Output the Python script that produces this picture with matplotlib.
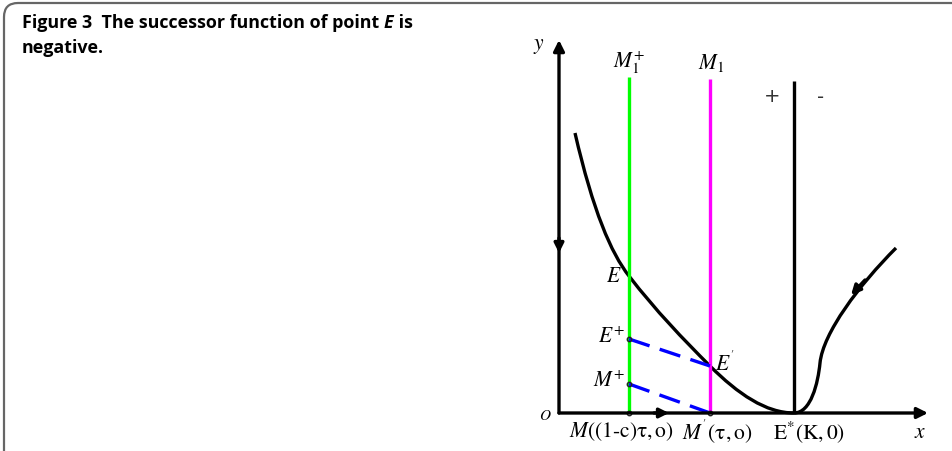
import numpy as np
import matplotlib
matplotlib.use('Agg')
import matplotlib.pyplot as plt
from matplotlib.patches import FancyBboxPatch, PathPatch
from matplotlib.path import Path

# 坐标原点在 O，单位约等于像素
tau_c = 70      # M = (1-c)tau
tau = 151       # M'
K = 235         # E*
E_y = 137
E_plus_y = 74
M_plus_y = 29
E_prime_y = 47

# 左侧轨线：三段三次贝塞尔 (起点, 控制点, 控制点, 终点 ...) 经过 E, E', E*
left_pts = [(16, 280), (34, 202), (52, 160), (tau_c, E_y),
            (97, 102), (124, 74), (tau, E_prime_y),
            (179, 19), (207, 0), (K, 0)]

# 右侧轨线：两段三次贝塞尔
right_pts = [(K, 0), (252, 0), (259, 30), (261, 50),
             (264, 80), (300, 128), (337, 165)]

# 竖线顶端
green_top = 336
magenta_top = 334
black_top = 332
y_axis_top = 373
x_axis_end = 369

title_a = 'Figure 3  The successor function of point '
title_b = 'E'
title_c = ' is'
title_line2 = 'negative.'

plt.rcParams['mathtext.fontset'] = 'stix'
plt.rcParams['font.family'] = ['Liberation Serif', 'DejaVu Serif']

fig = plt.figure(figsize=(9.52, 4.52), dpi=100)
ax = fig.add_axes([0, 0, 1, 1])
ax.set_xlim(-559, 952 - 559)
ax.set_ylim(-38, 414)
ax.axis('off')

# 外框（只露出上边和左边）
box = FancyBboxPatch((4, -60), 1100, 452 - 4 + 60, boxstyle='round,pad=0,rounding_size=14',
                     transform=None, fill=False, edgecolor='#666666', lw=1.6, clip_on=False)
fig.add_artist(box)

# 标题（E 为斜体，按实际宽度拼接）
renderer = fig.canvas.get_renderer()
tfont = dict(fontsize=12.9, fontweight='bold', family='Open Sans', va='baseline', ha='left')
x0 = 22
y1 = 452 - 28
y2 = 452 - 53
t = fig.text(x0 / 952, y1 / 452, title_a, **tfont)
w = t.get_window_extent(renderer).width
t2 = fig.text((x0 + w) / 952, y1 / 452, title_b, style='italic', **tfont)
w2 = t2.get_window_extent(renderer).width
fig.text((x0 + w + w2) / 952, y1 / 452, title_c, **tfont)
fig.text(x0 / 952, y2 / 452, title_line2, **tfont)

lw = 2.4
arr = dict(arrowstyle='-|>', lw=lw, color='k', shrinkA=0, shrinkB=0)
# 坐标轴
ax.annotate('', xy=(0, y_axis_top), xytext=(0, 0), arrowprops=dict(arr, mutation_scale=16))
ax.annotate('', xy=(x_axis_end, 0), xytext=(0, 0), arrowprops=dict(arr, mutation_scale=16))
# 轴上中间箭头
ax.annotate('', xy=(0, 160), xytext=(0, 175), arrowprops=dict(arr, mutation_scale=14))
ax.annotate('', xy=(110, 0), xytext=(95, 0), arrowprops=dict(arr, mutation_scale=14))

# 竖线
ax.plot([tau_c, tau_c], [0, green_top], color='#00ff00', lw=lw, solid_capstyle='butt')
ax.plot([tau, tau], [0, magenta_top], color='#ff00ff', lw=lw, solid_capstyle='butt')
ax.plot([K, K], [0, black_top], color='black', lw=lw, solid_capstyle='butt')

# 轨线
for pts in (left_pts, right_pts):
    codes = [Path.MOVETO] + [Path.CURVE4] * (len(pts) - 1)
    ax.add_patch(PathPatch(Path(pts, codes), fill=False, edgecolor='black', lw=lw, capstyle='butt'))
ax.annotate('', xy=(292, 118), xytext=(306, 133), arrowprops=dict(arr, mutation_scale=14))

# 虚线
ax.plot([tau_c, tau], [E_plus_y, E_prime_y], color='#0000ff', lw=lw, dashes=(6.5, 3.2))
ax.plot([tau_c, tau], [M_plus_y, 0], color='#0000ff', lw=lw, dashes=(6.5, 3.2))

# 小圆点
ax.plot([tau_c, tau_c, tau_c, tau], [E_plus_y, M_plus_y, 0, 0], 'o', ms=3.2,
        mfc='none', mec='#222222', mew=1.0)

# 标注
fs = 15.5
ax.text(-20, 367, r'$y$', fontsize=fs, ha='center', va='center')
ax.text(tau_c, 351, r'$M_1^{+}$', fontsize=fs, ha='center', va='center')
ax.text(tau + 1, 351, r'$M_1$', fontsize=fs, ha='center', va='center')
ax.text(213, 317, '+', fontsize=14, ha='center', va='center', family='DejaVu Sans', color='#333333')
ax.text(262, 317, '-', fontsize=14, ha='center', va='center', family='DejaVu Sans', color='#333333')
ax.text(63, E_y, r'$E$', fontsize=fs, ha='right', va='center')
ax.text(66, E_plus_y + 2, r'$E^{+}$', fontsize=fs, ha='right', va='center')
ax.text(156, E_prime_y + 4, r"$E^{'}$", fontsize=fs, ha='left', va='center')
ax.text(66, M_plus_y + 3, r'$M^{+}$', fontsize=fs, ha='right', va='center')
ax.text(-14, -2, r'$O$', fontsize=11, ha='center', va='center')
ax.text(62, -18, r'$M\mathrm{((1\text{-}c)\tau,o)}$', fontsize=fs, ha='center', va='center')
ax.text(158, -18, r"$M^{'}\mathrm{(\tau,o)}$", fontsize=fs, ha='center', va='center')
ax.text(250, -18, r'$\mathrm{E}^{*}\mathrm{(K,0)}$', fontsize=fs, ha='center', va='center')
ax.text(361, -20, r'$x$', fontsize=fs, ha='center', va='center')

fig.savefig('out.png', dpi=100)
